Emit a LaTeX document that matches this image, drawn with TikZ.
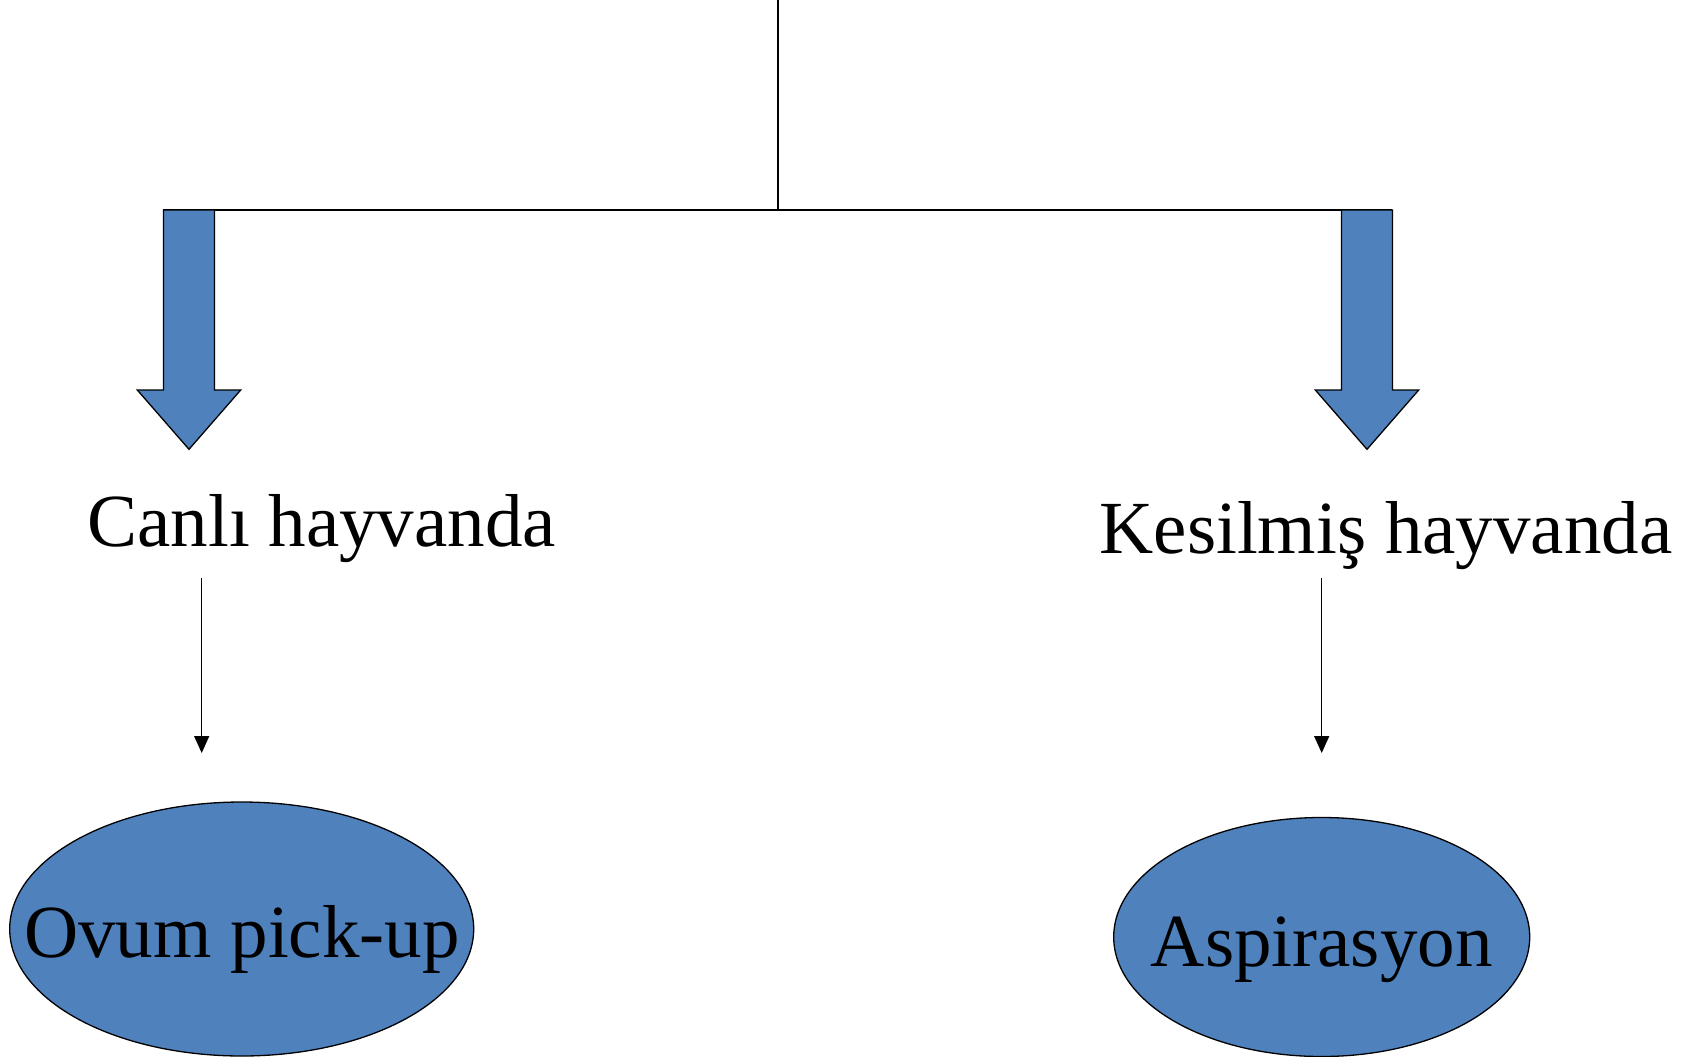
\documentclass[tikz,border=0pt]{standalone}
\usepackage{fontspec}
\setmainfont{Liberation Serif}
\usepackage{tikz}
\usetikzlibrary{shapes.geometric,arrows.meta}
\definecolor{boxblue}{HTML}{4F81BD}
\tikzstyle{place} = [font=\fontsize{75}{90}\selectfont, anchor=base, inner sep=0pt]
\tikzstyle{method} = [ellipse, draw, fill=boxblue, line width=1.3pt, inner sep=0pt]
\tikzstyle{bigarrow} = [draw, fill=boxblue, line width=1.3pt, line join=miter]
\tikzstyle{thin} = [line width=1.5pt, -{Triangle[width=15pt,length=17pt]}]

\begin{document}
\begin{tikzpicture}[x=1pt, y=-1pt]
    \useasboundingbox (0,0) rectangle (1697,1057);
    % branch
    \coordinate (top) at (778,0);
    \coordinate (fork) at (778,210);
    \coordinate (leftend) at (163.3,210);
    \coordinate (rightend) at (1392.3,210);
    \draw[line width=1.5pt] (top) -- (fork);
    \draw[line width=1.5pt] (leftend) -- (rightend);
    % block arrows
    \foreach \cx in {189,1367}
        \draw[bigarrow] (\cx-25.5,210) -- (\cx+25.5,210) -- (\cx+25.5,390) -- (\cx+51.7,390)
            -- (\cx,449.3) -- (\cx-51.7,390) -- (\cx-25.5,390) -- cycle;
    % texts
    \node[place] (canli) at (321.7,546) {Canlı hayvanda};
    \node[place] (kesilmis) at (1386,553) {Kesilmiş hayvanda};
    % thin arrows
    \coordinate (c1) at (201.7,578);
    \coordinate (c2) at (201.7,753);
    \coordinate (k1) at (1321.7,578);
    \coordinate (k2) at (1321.7,753);
    \draw[thin] (c1) -- (c2);
    \draw[thin] (k1) -- (k2);
    % ellipses
    \node[method, minimum width=464pt, minimum height=254pt] (opu) at (241.7,929) {};
    \node[place] (opuText) at (242,957) {Ovum pick-up};
    \node[method, minimum width=416pt, minimum height=239pt] (asp) at (1321.7,937) {};
    \node[place] (aspText) at (1321.7,966) {Aspirasyon};
\end{tikzpicture}
\end{document}
